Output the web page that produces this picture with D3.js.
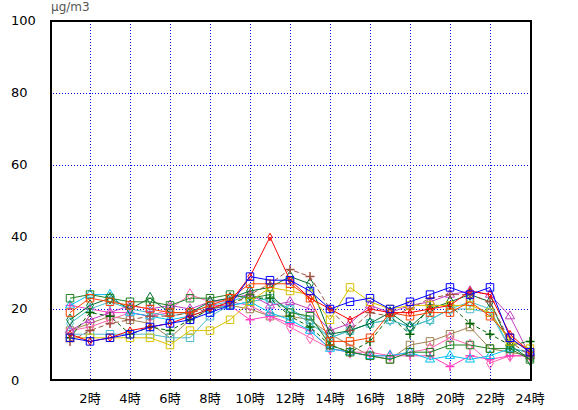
<!DOCTYPE html>
<html>
<head>
<meta charset="utf-8">
<script src="https://cdn.jsdelivr.net/npm/d3@7"></script>
<style>
 body { margin: 0; background: #fff; }
 text { font-family: "DejaVu Sans", "Noto Sans CJK JP", sans-serif; }
</style>
</head>
<body>
<div id="chart"></div>
<script>
// hours on the x axis
const hours = [1, 2, 3, 4, 5, 6, 7, 8, 9, 10, 11, 12, 13, 14, 15, 16, 17, 18, 19, 20, 21, 22, 23, 24];
const xTicks = [2, 4, 6, 8, 10, 12, 14, 16, 18, 20, 22, 24];
const xTickLabels = ["2時", "4時", "6時", "8時", "10時", "12時", "14時", "16時", "18時", "20時", "22時", "24時"];
const yTicks = [0, 20, 40, 60, 80, 100];
const unitLabel = "μg/m3";

// one list of hourly values per station
const station01 = [12, 11, 12, 13, 15, 16, 17, 19, 21, 29, 28, 28, 25, 20, 22, 23, 20, 22, 24, 26, 24, 26, 12, 8];
const station02 = [13, 11, 12, 14, 15, 16, 18, 20, 22, 29, 40, 28, 23, 20, 17, 20, 19, 19, 20, 21, 25, 24, 13, 8];
const station03 = [19, 23, 22, 21, 20, 19, 19, 21, 23, 27, 27, 27, 23, 11, 11, 12, 19, 18, 19, 19, 22, 18, 12, 8];
const station04 = [23, 24, 23, 22, 22, 21, 23, 23, 24, 23, 24, 19, 18, 10, 8, 7, 6, 8, 8, 10, 10, 9, 9, 6];
const station05 = [21, 24, 24, 19, 18, 17, 18, 20, 21, 22, 19, 17, 14, 9, 8, 7, 7, 8, 6, 7, 6, 7, 9, 8];
const station06 = [16, 20, 22, 20, 19, 18, 19, 21, 22, 24, 22, 20, 16, 12, 14, 16, 17, 15, 17, 20, 22, 20, 9, 8];
const station07 = [21, 20, 19, 19, 18, 19, 19, 21, 21, 17, 18, 16, 14, 9, 8, 7, 7, 7, 7, 4, 7, 6, 7, 7];
const station08 = [11, 14, 16, 17, 18, 18, 19, 20, 21, 24, 27, 31, 29, 20, 14, 19, 18, 20, 23, 24, 24, 22, 11, 7];
const station09 = [12, 19, 18, 13, 15, 14, 17, 20, 22, 23, 23, 18, 15, 10, 8, 11, 18, 13, 21, 21, 16, 13, 10, 11];
const station10 = [17, 21, 23, 20, 23, 19, 19, 22, 23, 25, 26, 29, 27, 13, 14, 16, 19, 15, 20, 22, 24, 22, 10, 6];
const station11 = [12, 12, 12, 12, 12, 10, 14, 14, 17, 22, 26, 25, 24, 17, 26, 22, 20, 21, 21, 21, 21, 19, 11, 9];
const station12 = [14, 16, 18, 17, 16, 12, 17, 20, 21, 20, 18, 18, 17, 13, 10, 7, 6, 10, 11, 13, 15, 9, 8, 7];
const station13 = [14, 17, 19, 21, 20, 21, 20, 22, 23, 24, 21, 22, 20, 14, 16, 21, 19, 21, 22, 24, 25, 24, 18, 7];
const station14 = [14, 15, 17, 19, 18, 20, 24, 22, 22, 21, 18, 15, 12, 9, 8, 8, 7, 8, 9, 12, 10, 5, 7, 7];
const station15 = [13, 13, 13, 13, 13, 12, 12, 18, 21, 22, 23, 20, 17, 12, 14, 16, 17, 15, 17, 20, 20, 19, 9, 8];

(function () {
 const margin = { top: 21, right: 48, bottom: 30, left: 50 };
 const width = 578 - margin.left - margin.right;
 const height = 410 - margin.top - margin.bottom;

 // drawing style for each station, same order as the lists
 const series = [
  { values: station12, color: "#a08050", marker: "square" },
  { values: station15, color: "#50b8c8", marker: "square" },
  { values: station14, color: "#ff60b0", marker: "diamond" },
  { values: station07, color: "#ff40c0", marker: "plus" },
  { values: station05, color: "#00c0f0", marker: "triangle" },
  { values: station06, color: "#40c0c8", marker: "diamond" },
  { values: station13, color: "#c040c0", marker: "triangle" },
  { values: station09, color: "#006400", marker: "plus", dash: "4,3" },
  { values: station10, color: "#007030", marker: "diamond" },
  { values: station08, color: "#a05040", marker: "plus", dash: "5,3" },
  { values: station04, color: "#208020", marker: "square" },
  { values: station11, color: "#d8c000", marker: "square" },
  { values: station03, color: "#ff4000", marker: "square" },
  { values: station02, color: "#ff0000", marker: "diamond", small: true },
  { values: station01, color: "#0000ff", marker: "square" },
 ];

 const svg = d3
  .select("#chart")
  .append("svg")
  .attr("width", 578)
  .attr("height", 410)
  .append("g")
  .attr("transform", `translate(${margin.left},${margin.top})`);

 const x = d3.scaleLinear().domain([0, 24]).range([0, width]);
 const y = d3.scaleLinear().domain([0, 100]).range([height + 1, 0]);

 // dotted grid
 svg
  .selectAll(".hgrid")
  .data(yTicks.filter((d) => d > 0 && d < 100))
  .enter()
  .append("line")
  .attr("x1", 0)
  .attr("x2", width)
  .attr("y1", (d) => Math.round(y(d)) + 0.5)
  .attr("y2", (d) => Math.round(y(d)) + 0.5)
  .attr("stroke", "#0000ff")
  .attr("stroke-dasharray", "1,2");

 svg
  .selectAll(".vgrid")
  .data(xTicks.filter((d) => d < 24))
  .enter()
  .append("line")
  .attr("x1", (d) => x(d) + 0.5)
  .attr("x2", (d) => x(d) + 0.5)
  .attr("y1", 0)
  .attr("y2", height)
  .attr("stroke", "#0000ff")
  .attr("stroke-dasharray", "1,2");

 const line = d3
  .line()
  .x((d, i) => x(hours[i]))
  .y((d) => y(d));

 const markerPath = {
  square: d3.symbol(d3.symbolSquare, 56)(),
  diamond: d3.symbol(d3.symbolDiamond, 40)(),
  small: d3.symbol(d3.symbolDiamond, 16)(),
  triangle: d3.symbol(d3.symbolTriangle, 36)(),
  plus: "M-4.5,0H4.5M0,-4.5V4.5",
 };

 series.forEach((s) => {
  svg
   .append("path")
   .datum(s.values)
   .attr("fill", "none")
   .attr("stroke", s.color)
   .attr("stroke-width", 1)
   .attr("stroke-dasharray", s.dash || null)
   .attr("d", line);

  svg
   .selectAll(null)
   .data(s.values)
   .enter()
   .append("path")
   .attr("transform", (d, i) => `translate(${x(hours[i])},${y(d)})`)
   .attr("d", s.small ? markerPath.small : markerPath[s.marker])
   .attr("fill", "none")
   .attr("stroke", s.color)
   .attr("stroke-width", s.marker === "plus" ? 1.5 : 1);
 });

 // frame
 svg
  .append("rect")
  .attr("x", 1)
  .attr("y", 0)
  .attr("width", width)
  .attr("height", height)
  .attr("fill", "none")
  .attr("stroke", "#000")
  .attr("stroke-width", 2);

 // axis labels
 svg
  .selectAll(".ylab")
  .data(yTicks)
  .enter()
  .append("text")
  .attr("x", -39)
  .attr("y", (d) => y(d) + 4)
  .attr("font-size", 13)
  .attr("fill", "#000")
  .text((d) => d);

 svg
  .selectAll(".xlab")
  .data(xTicks)
  .enter()
  .append("text")
  .attr("x", (d) => x(d))
  .attr("y", height + 23)
  .attr("text-anchor", "middle")
  .attr("font-size", 13)
  .attr("fill", "#000")
  .text((d, i) => xTickLabels[i]);

 svg
  .append("text")
  .attr("x", 1)
  .attr("y", -10)
  .attr("font-size", 12)
  .attr("fill", "#555")
  .text(unitLabel);
})();
</script>
</body>
</html>
